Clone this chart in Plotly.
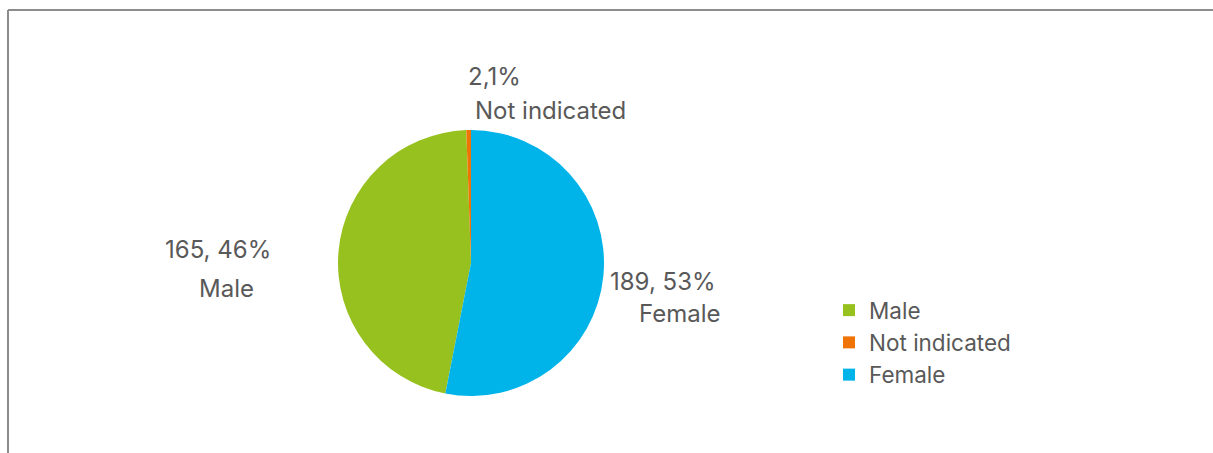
import plotly.graph_objects as go

# Data
categories = ["Male", "Not indicated", "Female"]
counts = [165, 2, 189]
value_labels = ["165, 46%", "2,1%", "189, 53%"]
colors = ["#97C11F", "#F07306", "#00B4EA"]

W, H = 1213, 453
total = sum(counts)
# start so that Female begins at 12 o'clock, going clockwise
rotation = 360 * (1 - (counts[0] + counts[1]) / total)

cx, cy, r = 471, 263, 133

fig = go.Figure(go.Pie(
    labels=categories,
    values=counts,
    sort=False,
    direction="clockwise",
    rotation=rotation,
    marker=dict(colors=colors, line=dict(color="white", width=0)),
    textinfo="none",
    hoverinfo="label+value+percent",
    domain=dict(x=[(cx - r) / W, (cx + r) / W], y=[(H - cy - r) / H, (H - cy + r) / H]),
))

txt_color = "#595959"
font_family = "Inter, Open Sans, sans-serif"
lbl_size = 24

# label line positions (pixel centers): (text, x, y)
label_lines = [
    (value_labels[0], 218, 249), (categories[0], 226, 288),
    (value_labels[1], 494, 77), (categories[1], 550, 110),
    (value_labels[2], 663, 281), (categories[2], 680, 313),
]
annotations = []
for t, x, y in label_lines:
    annotations.append(dict(
        text=t, x=x / W, y=1 - y / H, xref="paper", yref="paper",
        xanchor="center", yanchor="middle", showarrow=False,
        font=dict(family=font_family, size=lbl_size, color=txt_color),
    ))

shapes = [
    dict(type="line", xref="paper", yref="paper", x0=8 / W, x1=1, y0=1 - 10 / H, y1=1 - 10 / H,
         line=dict(color="#8C8C8C", width=2)),
    dict(type="line", xref="paper", yref="paper", x0=8 / W, x1=8 / W, y0=1 - 10 / H, y1=0,
         line=dict(color="#8C8C8C", width=2)),
]

fig.update_layout(
    width=W, height=H,
    margin=dict(l=0, r=0, t=0, b=0),
    paper_bgcolor="white",
    plot_bgcolor="white",
    showlegend=True,
    legend=dict(
        x=829 / W, y=1 - 289 / H, xanchor="left", yanchor="top",
        font=dict(family=font_family, size=22.5, color=txt_color),
        traceorder="normal", itemwidth=30,
    ),
    annotations=annotations,
    shapes=shapes,
)

fig.write_html("out.html")
